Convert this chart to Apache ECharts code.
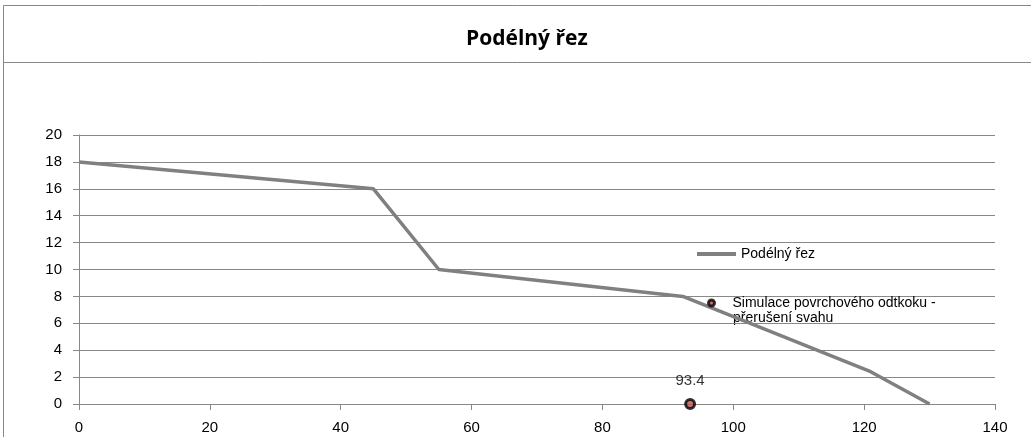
<!DOCTYPE html>
<html><head><meta charset="utf-8">
<script src="https://cdn.jsdelivr.net/npm/echarts@6/dist/echarts.min.js"></script>
<style>html,body{margin:0;padding:0;background:#fff}#c{width:1031px;height:437px}</style>
</head><body><div id="c"></div>
<script>
const titleText = 'Podélný řez';
const lineName = 'Podélný řez';
const pointName = 'Simulace povrchového odtkoku - přerušení svahu';
const pointNameLine1 = 'Simulace povrchového odtkoku -';
const pointNameLine2 = 'přerušení svahu';
const profileX = [0, 45, 55, 92.3, 121, 130];
const profileY = [18, 16, 10, 8, 2.4, 0];
const pointX = [93.4];
const pointY = [0];
const xTicks = [0, 20, 40, 60, 80, 100, 120, 140];
const yTicks = [0, 2, 4, 6, 8, 10, 12, 14, 16, 18, 20];

const font = 'Liberation Sans, sans-serif';
const chart = echarts.init(document.getElementById('c'));
chart.setOption({
  animation: false,
  title: { text: titleText, left: 461, top: 24, textStyle: { fontFamily: 'Open Sans', fontWeight: 'bold', fontSize: 21, color: '#000' } },
  graphic: [
    { type: 'rect', shape: { x: 3.5, y: 5.5, width: 1040, height: 440 }, style: { fill: 'none', stroke: '#888', lineWidth: 1 }, silent: true },
    { type: 'line', shape: { x1: 3.5, y1: 62.5, x2: 1031, y2: 62.5 }, style: { stroke: '#888', lineWidth: 1 }, silent: true },
    { type: 'text', left: 733, top: 311, style: { text: pointNameLine2, fontFamily: font, fontSize: 14, fill: '#000' }, silent: true }
  ],
  legend: [
    { data: [{ name: lineName, icon: 'rect' }], left: 692, top: 242, itemWidth: 39, itemHeight: 4, itemGap: 4,
      textStyle: { fontFamily: font, fontSize: 14, color: '#000' } },
    { data: [{ name: pointName, itemStyle: { color: '#c0504d', borderColor: '#000', borderWidth: 3 } }],
      left: 702, top: 291, itemWidth: 6, itemHeight: 6, itemGap: 4,
      formatter: () => pointNameLine1,
      textStyle: { fontFamily: font, fontSize: 14, color: '#000', padding: [0, 0, 0, 13] } }
  ],
  grid: { left: 79, right: 36, top: 135, bottom: 33 },
  xAxis: {
    type: 'value', min: xTicks[0], max: xTicks[xTicks.length - 1], interval: 20,
    axisLine: { lineStyle: { color: '#888' } },
    axisTick: { show: true, length: 6, lineStyle: { color: '#888' } },
    axisLabel: { color: '#000', fontFamily: font, fontSize: 15, margin: 16 },
    splitLine: { show: false }
  },
  yAxis: {
    type: 'value', min: yTicks[0], max: yTicks[yTicks.length - 1], interval: 2,
    axisLine: { show: true, lineStyle: { color: '#888' } },
    axisTick: { show: true, length: 6, lineStyle: { color: '#888' } },
    axisLabel: { color: '#000', fontFamily: font, fontSize: 15, margin: 17 },
    splitLine: { lineStyle: { color: '#888' } }
  },
  series: [
    { name: lineName, type: 'line', data: profileX.map((x, i) => [x, profileY[i]]),
      showSymbol: false, symbol: 'none', lineStyle: { color: '#808080', width: 3.5 }, itemStyle: { color: '#808080' } },
    { name: pointName, type: 'scatter', data: pointX.map((x, i) => [x, pointY[i]]),
      symbolSize: 9, itemStyle: { color: '#c0504d', borderColor: '#000', borderWidth: 3 },
      label: { show: true, position: 'top', distance: 10, formatter: p => p.value[0].toFixed(1), color: '#000', fontFamily: font, fontSize: 15 } }
  ]
});
</script></body></html>
